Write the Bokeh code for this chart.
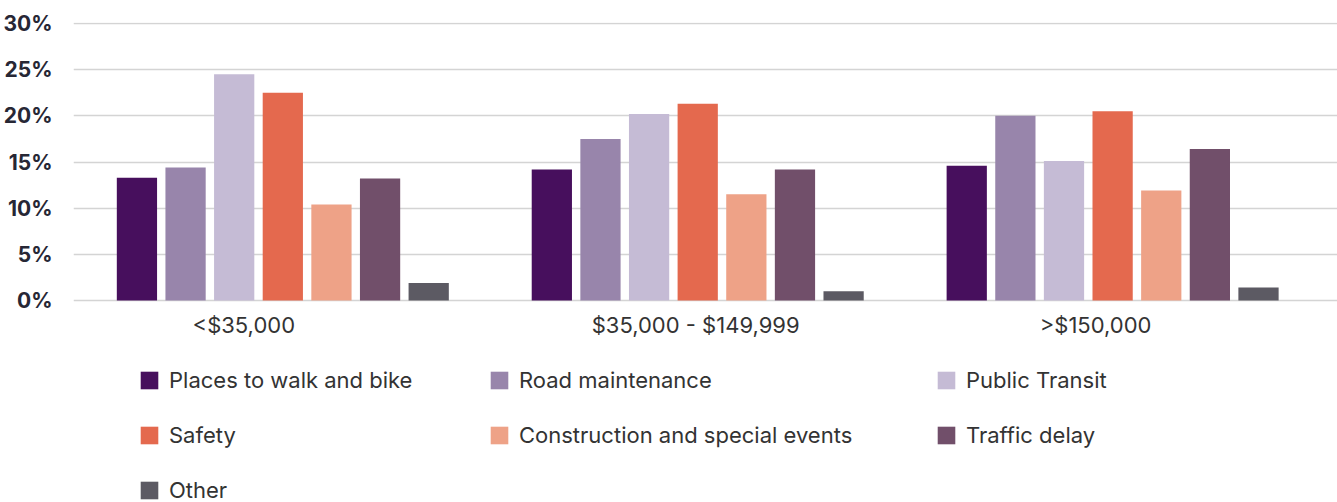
from bokeh.plotting import figure
from bokeh.models import Range1d, Legend, LegendItem, FixedTicker, PrintfTickFormatter
from bokeh.transform import dodge
from bokeh.embed import file_html
from bokeh.resources import INLINE

# ---- data ----
groups = ["<$35,000", "$35,000 - $149,999", ">$150,000"]
series_names = ["Places to walk and bike", "Road maintenance", "Public Transit",
                "Safety", "Construction and special events", "Traffic delay", "Other"]
places_walk_bike = [13.3, 14.2, 14.6]
road_maintenance = [14.4, 17.5, 20.0]
public_transit = [24.5, 20.2, 15.1]
safety = [22.5, 21.3, 20.5]
construction_events = [10.4, 11.5, 11.9]
traffic_delay = [13.2, 14.2, 16.4]
other = [1.9, 1.0, 1.4]
y_ticks = [0, 5, 10, 15, 20, 25, 30]

series_values = [places_walk_bike, road_maintenance, public_transit, safety,
                 construction_events, traffic_delay, other]
colors = ["#470f5d", "#9885ab", "#c5bbd5", "#e4694e", "#eea287", "#714f6a", "#5c5a63"]

FONT = "Inter"
W, H = 1337, 502
LEFT, TOP = 72, 22

# category positions (centre of each group slot)
xpos = [i + 0.5 for i in range(len(groups))]
# the reference's category captions sit slightly left of their groups
label_shift = [-0.094, -0.005, -0.041]
label_pos = [x + s for x, s in zip(xpos, label_shift)]

p = figure(x_range=Range1d(-0.0045, 3.042), y_range=Range1d(-21.88, 30.11),
           width=W, height=H, output_backend="svg", toolbar_location=None,
           min_border_left=LEFT, min_border_top=TOP, min_border_right=0, min_border_bottom=0)
p.outline_line_color = None

step = 0.1172
bw = 0.097
renderers = []
for i, (name, vals, c) in enumerate(zip(series_names, series_values, colors)):
    src = {"x": xpos, "v": vals}
    r = p.vbar(x=dodge("x", (i - 3) * step), top="v", width=bw,
               source=src, fill_color=c, line_color=None)
    renderers.append((name, r))

p.yaxis.ticker = FixedTicker(ticks=y_ticks)
p.yaxis.formatter = PrintfTickFormatter(format="%d%%")
p.yaxis.axis_line_color = None
p.yaxis.major_tick_line_color = None
p.yaxis.minor_tick_line_color = None
p.yaxis.major_label_text_font = FONT
p.yaxis.major_label_text_font_style = "bold"
p.yaxis.major_label_text_font_size = "21px"
p.yaxis.major_label_text_color = "#272735"
p.yaxis.major_label_standoff = 15

p.xaxis.fixed_location = 0
p.xaxis.ticker = FixedTicker(ticks=label_pos)
p.xaxis.major_label_overrides = {x: g for x, g in zip(label_pos, groups)}
p.xaxis.axis_line_color = None
p.xaxis.major_tick_line_color = None
p.xaxis.minor_tick_line_color = None
p.xaxis.major_label_text_font = FONT
p.xaxis.major_label_text_font_size = "22px"
p.xaxis.major_label_text_color = "#333333"
p.xaxis.major_label_standoff = 6

p.xgrid.grid_line_color = None
p.ygrid.ticker = FixedTicker(ticks=y_ticks)
p.ygrid.grid_line_color = "#d4d4d4"
p.ygrid.grid_line_width = 1.5

# legend: three columns, each its own Legend
columns = [[0, 3, 6], [1, 4], [2, 5]]
col_x = [65, 415, 862]
item_h, gap = 28, 27
top_row = 366  # page y of legend top
for cols, cx in zip(columns, col_x):
    n = len(cols)
    lh = n * item_h + (n - 1) * gap
    ybot = H - top_row - lh
    lg = Legend(items=[LegendItem(label=renderers[k][0], renderers=[renderers[k][1]]) for k in cols],
                location=(cx, ybot), orientation="vertical")
    lg.label_text_font = FONT
    lg.label_text_font_size = "22px"
    lg.label_text_color = "#333333"
    lg.label_height = item_h
    lg.glyph_width = 22
    lg.glyph_height = 22
    lg.label_standoff = 9
    lg.spacing = gap
    lg.padding = 0
    lg.margin = 0
    lg.border_line_color = None
    lg.background_fill_alpha = 0
    p.add_layout(lg, "center")

open("out.html", "w").write(file_html(p, INLINE))
